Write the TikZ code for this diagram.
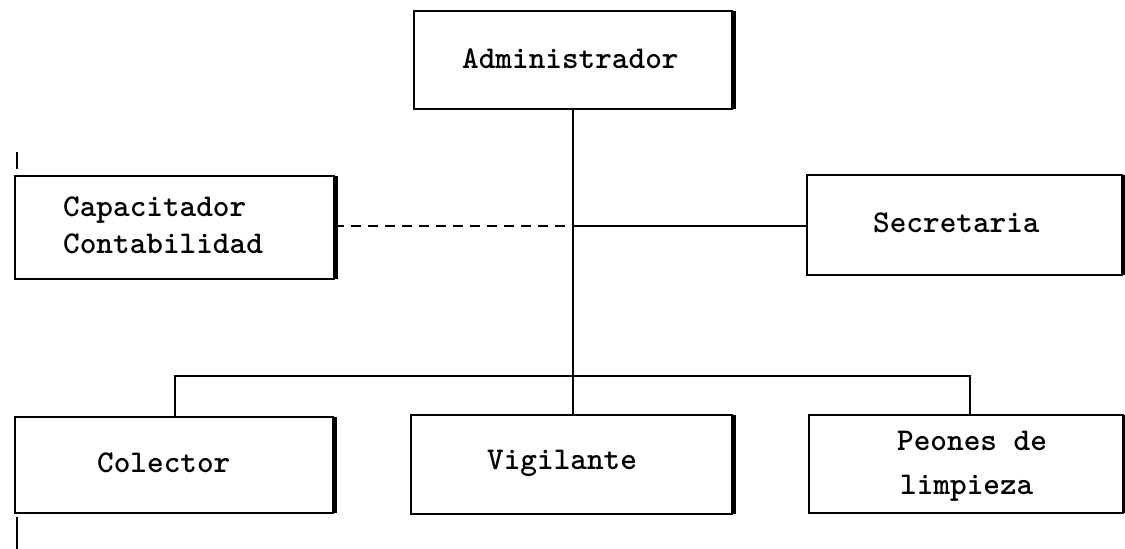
\documentclass[tikz,border=0pt]{standalone}
\usepackage{fontspec}
\begin{document}
\begin{tikzpicture}[x=1pt,y=-1pt,
  orgbox/.style={draw, rectangle, line width=2.6pt, inner sep=0pt, outer sep=0pt},
  shadowedge/.style={line width=5pt},
  lbl/.style={font={\ttfamily\bfseries\fontsize{31.7}{38}\selectfont}, inner sep=0pt, anchor=base west},
  link/.style={line width=2.3pt},
  advisory/.style={line width=2pt, dash pattern=on 10pt off 7pt},
  margin/.style={line width=1.5pt}]
\useasboundingbox (0,0) rectangle (1125,549);

% boxes
\node[orgbox, minimum width=318pt, minimum height=98pt]  (adm) at (573,60) {};
\node[orgbox, minimum width=319pt, minimum height=103pt] (cap) at (174.5,227.5) {};
\node[orgbox, minimum width=315pt, minimum height=100pt] (sec) at (964.5,225) {};
\node[orgbox, minimum width=318pt, minimum height=96pt]  (col) at (174,465) {};
\node[orgbox, minimum width=321pt, minimum height=99pt]  (vig) at (571.5,464.5) {};
\node[orgbox, minimum width=314pt, minimum height=98pt]  (peo) at (966,464) {};

% heavier right-hand edges
\foreach \b in {adm,cap,sec,col,vig,peo}
  \draw[shadowedge] ([xshift=1.2pt]\b.north east) -- ([xshift=1.2pt]\b.south east);

% texts
\node[lbl] (admT)  at (462,68)  {Administrador};
\node[lbl] (capT1) at (63,216)  {Capacitador};
\node[lbl] (capT2) at (63,253)  {Contabilidad};
\node[lbl] (secT)  at (873,232) {Secretaria};
\node[lbl] (colT)  at (97,472)  {Colector};
\node[lbl] (vigT)  at (487,469) {Vigilante};
\node[lbl] (peoT1) at (897,450) {Peones de};
\node[lbl] (peoT2) at (900,494) {limpieza};

% connectors
\coordinate (hub)  at (573,376);
\coordinate (mid)  at (573,226);
\coordinate (busL) at (175,376);
\coordinate (busR) at (970,376);

\draw[link] (adm.south -| hub) -- (hub) -- (vig.north -| hub);
\draw[link] (col.north -| busL) -- (busL) -- (busR) -- (peo.north -| busR);
\draw[advisory] (cap.east |- mid) -- (mid);
\draw[link] (mid) -- (sec.west |- mid);

% marks at the left margin
\coordinate (m1) at (17,152);
\coordinate (m2) at (17,169);
\coordinate (m3) at (17,517);
\coordinate (m4) at (17,549);
\draw[margin] (m1) -- (m2);
\draw[margin] (m3) -- (m4);
\end{tikzpicture}
\end{document}
